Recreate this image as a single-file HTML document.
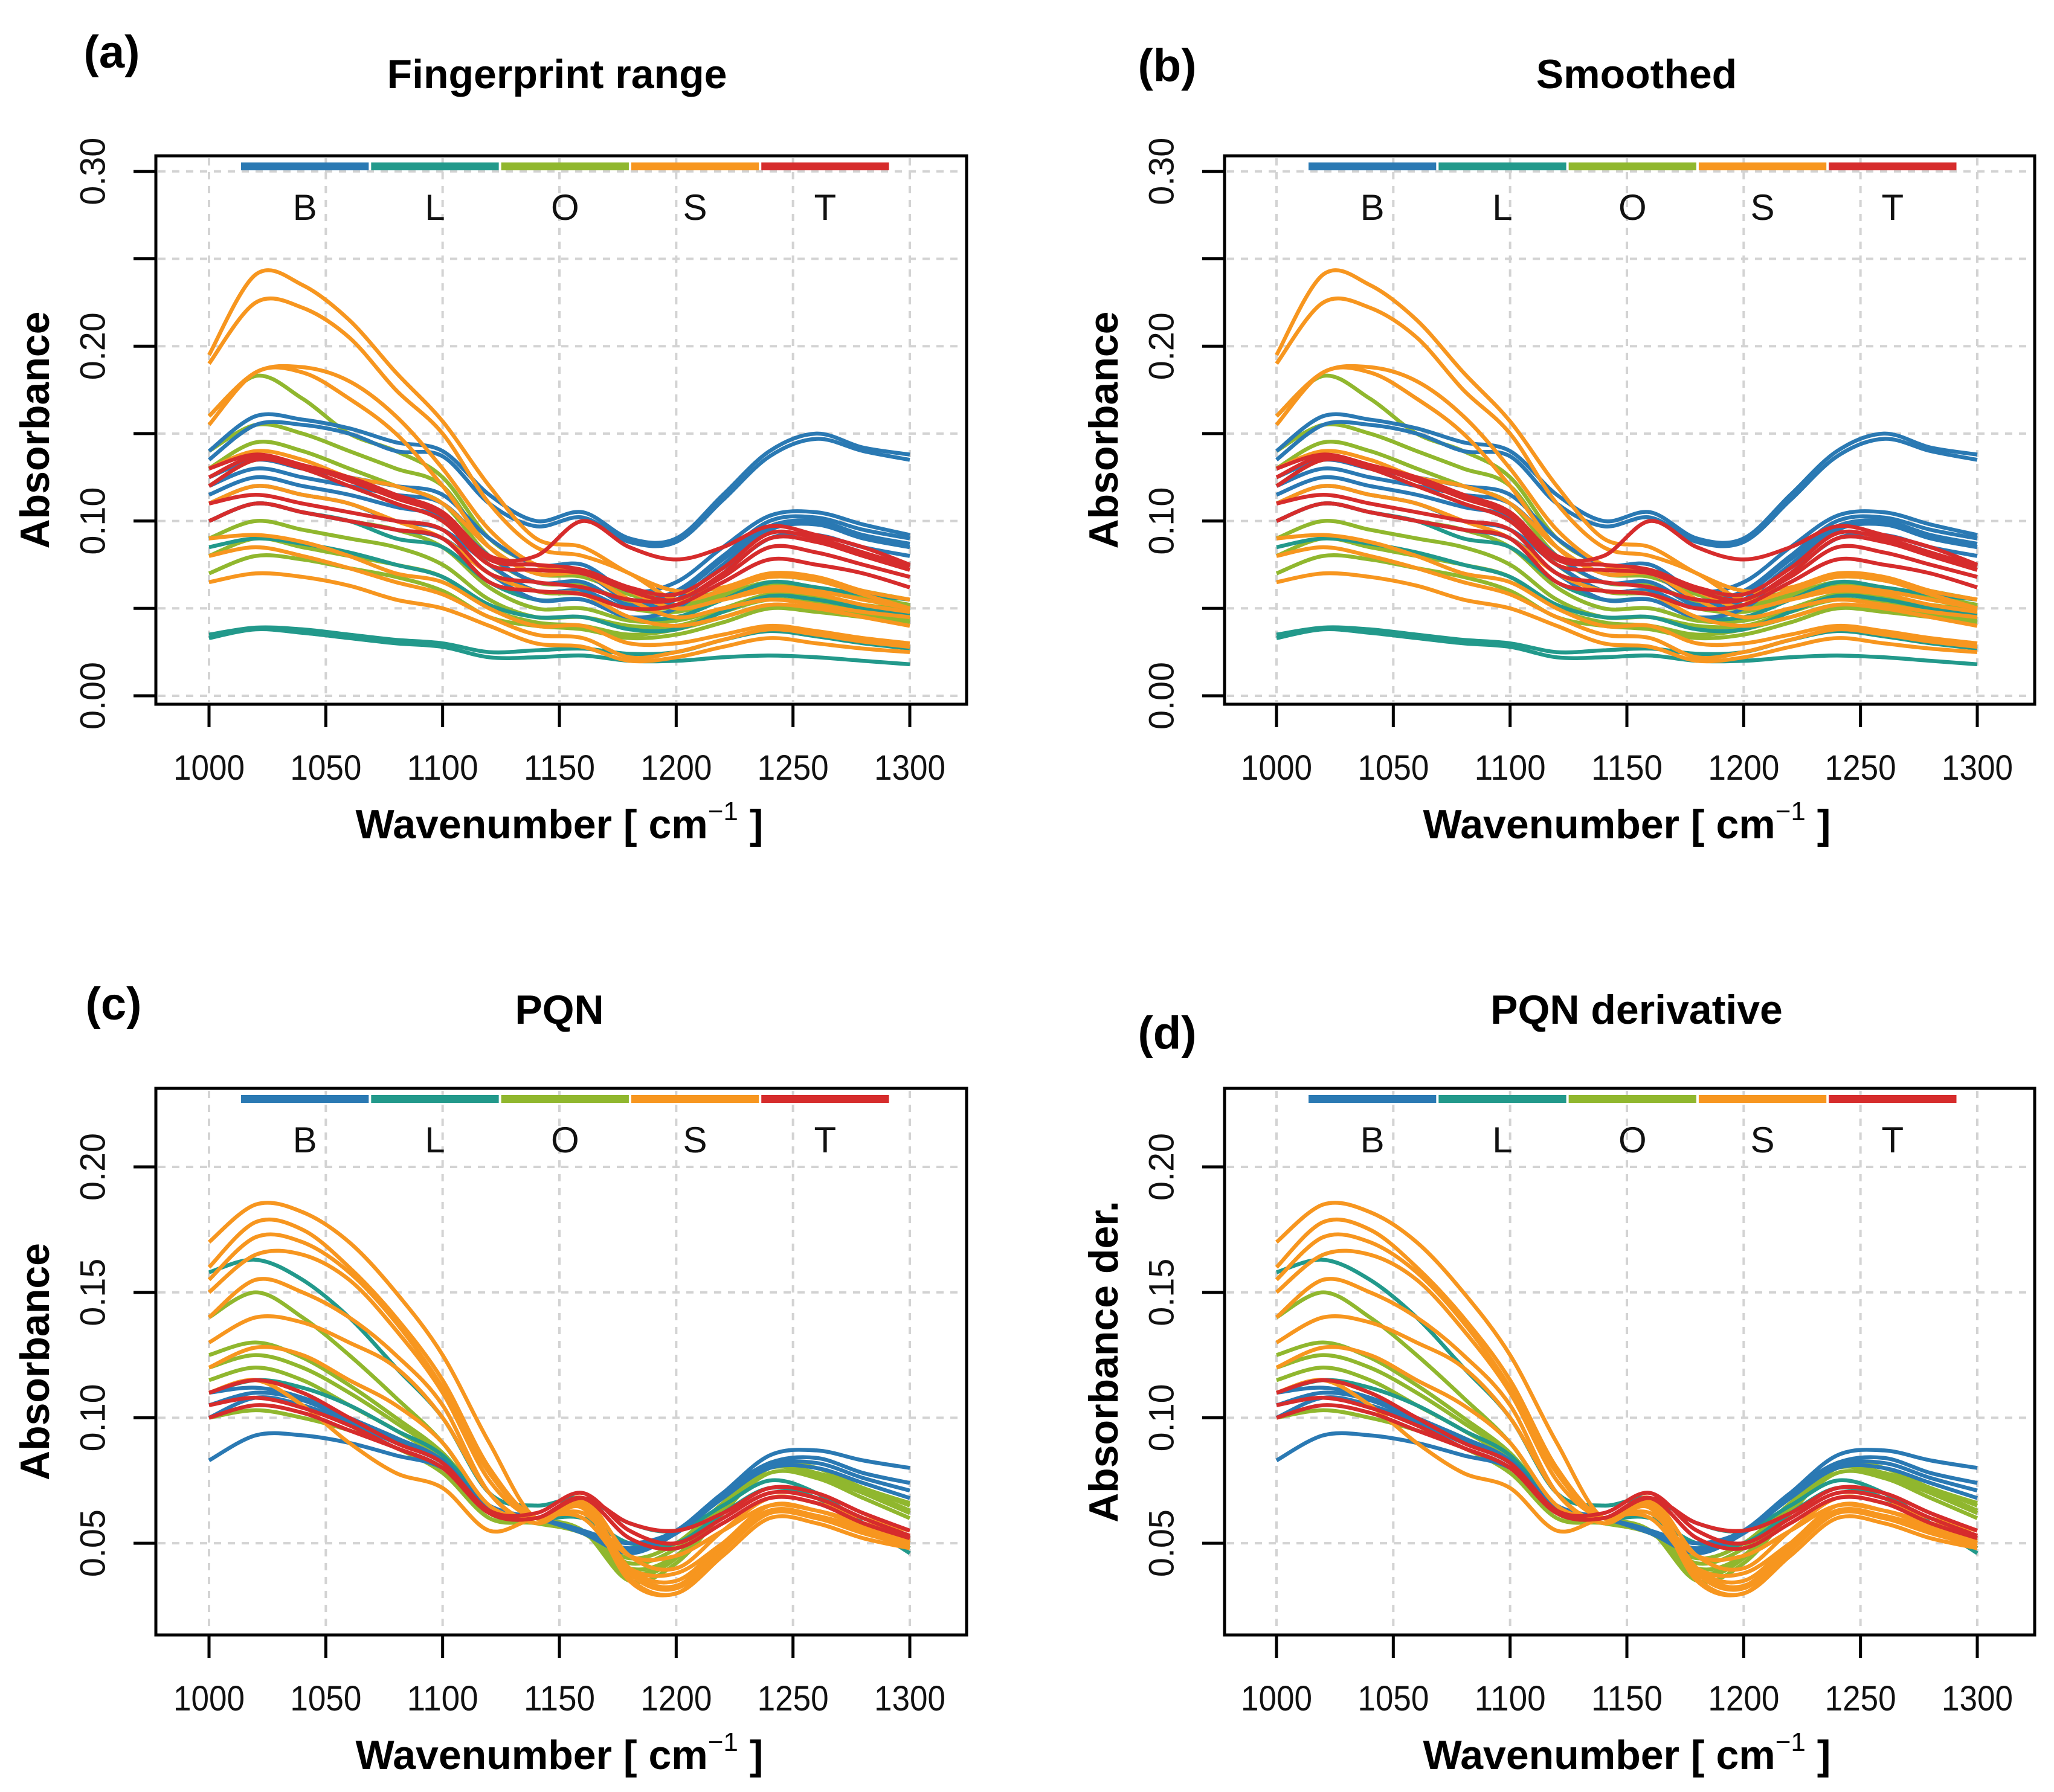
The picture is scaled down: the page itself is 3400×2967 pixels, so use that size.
<!DOCTYPE html>
<html><head><meta charset="utf-8"><style>
html,body{margin:0;padding:0;background:#fff;}
svg{display:block;}
text{font-family:"Liberation Sans",Arial,sans-serif;}
</style></head>
<body>
<svg id="fig" width="3400" height="2967" viewBox="0 0 3400 2967" xmlns="http://www.w3.org/2000/svg">
<rect width="3400" height="2967" fill="#fff"/>
</svg>
<script>
const xs = [1000,1020,1040,1060,1080,1100,1120,1140,1160,1180,1200,1220,1240,1260,1280,1300];
const classNames = ['B','L','O','S','T'];
const classColors = {B:'#2a79b3',L:'#22998b',O:'#90b72e',S:'#f7961f',T:'#d62c2c'};

// Panel (a)/(b) raw spectra per class
const rawB = [
 [.14,.16,.158,.153,.145,.14,.115,.1,.105,.09,.09,.115,.14,.15,.142,.138],
 [.135,.155,.155,.15,.14,.137,.11,.097,.102,.088,.088,.112,.137,.147,.14,.135],
 [.125,.135,.13,.125,.12,.115,.09,.075,.075,.06,.065,.085,.103,.105,.098,.092],
 [.12,.13,.125,.12,.115,.11,.085,.07,.07,.055,.06,.08,.1,.102,.095,.09],
 [.115,.125,.12,.115,.108,.102,.08,.065,.065,.052,.058,.078,.097,.1,.092,.087],
 [.11,.12,.115,.11,.1,.095,.075,.06,.06,.05,.055,.075,.095,.098,.09,.085],
 [.1,.11,.105,.1,.095,.09,.07,.055,.055,.045,.05,.07,.09,.092,.085,.08]
];
const rawL = [
 [.033,.038,.036,.033,.03,.028,.022,.022,.023,.02,.02,.022,.023,.022,.02,.018],
 [.035,.039,.038,.035,.032,.03,.025,.026,.027,.024,.025,.032,.037,.034,.03,.027],
 [.1,.11,.105,.1,.09,.085,.065,.055,.055,.045,.045,.055,.065,.062,.058,.055],
 [.085,.09,.087,.082,.075,.068,.052,.045,.045,.038,.038,.048,.057,.055,.05,.046]
];
const rawO = [
 [.16,.183,.17,.15,.14,.125,.09,.075,.07,.06,.055,.06,.068,.066,.06,.055],
 [.14,.155,.15,.14,.13,.12,.085,.07,.068,.058,.052,.058,.065,.062,.057,.052],
 [.13,.145,.14,.13,.12,.11,.08,.065,.063,.054,.05,.057,.064,.061,.056,.051],
 [.12,.135,.13,.12,.11,.1,.075,.06,.058,.05,.048,.055,.062,.06,.055,.05],
 [.1,.11,.105,.1,.095,.085,.062,.05,.05,.043,.043,.05,.058,.056,.052,.049],
 [.09,.1,.095,.09,.085,.075,.055,.045,.045,.04,.04,.048,.055,.053,.05,.047],
 [.08,.09,.085,.08,.075,.068,.05,.042,.04,.035,.038,.045,.052,.05,.047,.044],
 [.07,.08,.078,.073,.068,.06,.045,.04,.038,.033,.035,.042,.05,.048,.045,.042]
];
const rawS = [
 [.195,.241,.235,.215,.185,.157,.12,.09,.085,.07,.06,.062,.07,.068,.06,.055],
 [.19,.225,.222,.205,.175,.15,.11,.085,.08,.07,.055,.06,.068,.066,.058,.05],
 [.16,.185,.188,.18,.16,.13,.095,.075,.072,.06,.05,.055,.062,.06,.055,.05],
 [.155,.185,.185,.17,.15,.12,.085,.07,.07,.055,.045,.05,.055,.052,.048,.045],
 [.13,.14,.135,.125,.12,.11,.085,.07,.07,.06,.05,.055,.06,.058,.052,.048],
 [.11,.12,.115,.11,.1,.09,.07,.06,.058,.045,.04,.045,.052,.05,.045,.04],
 [.09,.092,.088,.08,.07,.065,.05,.04,.04,.03,.03,.035,.04,.037,.033,.03],
 [.08,.085,.08,.073,.065,.058,.045,.035,.033,.022,.025,.032,.038,.035,.031,.028],
 [.065,.07,.068,.063,.055,.05,.04,.03,.028,.02,.022,.028,.033,.03,.027,.025]
];
const rawT = [
 [.13,.138,.132,.125,.115,.105,.08,.08,.1,.085,.078,.085,.097,.092,.085,.075],
 [.125,.137,.132,.123,.113,.103,.078,.075,.072,.062,.058,.073,.093,.09,.082,.074],
 [.12,.135,.13,.12,.11,.1,.075,.072,.07,.06,.055,.07,.09,.088,.08,.072],
 [.11,.115,.11,.105,.1,.095,.07,.065,.062,.055,.055,.068,.085,.082,.075,.068],
 [.1,.11,.105,.1,.095,.09,.065,.06,.058,.05,.052,.065,.078,.075,.07,.062]
];

// Panel (c)/(d) PQN spectra per class
const pqnB = [
 [.083,.093,.093,.09,.085,.08,.065,.06,.055,.05,.055,.07,.085,.087,.083,.08],
 [.1,.108,.105,.098,.09,.082,.065,.06,.055,.048,.055,.07,.082,.084,.078,.074],
 [.105,.11,.107,.099,.091,.082,.064,.06,.055,.047,.054,.069,.081,.082,.076,.071],
 [.11,.112,.108,.1,.092,.083,.064,.06,.054,.046,.054,.068,.08,.08,.074,.068]
];
const pqnL = [
 [.158,.163,.155,.14,.12,.1,.07,.065,.068,.058,.055,.065,.075,.07,.058,.046],
 [.11,.115,.112,.105,.095,.085,.065,.06,.06,.05,.05,.062,.072,.068,.058,.048]
];
const pqnO = [
 [.14,.15,.14,.125,.108,.09,.065,.06,.055,.035,.042,.062,.08,.078,.072,.065],
 [.125,.13,.124,.113,.1,.086,.065,.06,.055,.037,.044,.064,.08,.078,.071,.063],
 [.12,.125,.12,.11,.098,.085,.065,.06,.055,.038,.045,.065,.08,.078,.07,.062],
 [.115,.12,.115,.105,.095,.083,.063,.06,.055,.04,.045,.063,.078,.076,.068,.06],
 [.11,.115,.11,.1,.092,.082,.062,.058,.054,.042,.048,.065,.082,.08,.072,.066],
 [.1,.103,.1,.095,.088,.078,.06,.058,.054,.044,.05,.066,.08,.077,.07,.063]
];
const pqnS = [
 [.17,.185,.182,.17,.15,.125,.09,.06,.068,.045,.04,.055,.068,.066,.06,.055],
 [.16,.178,.175,.16,.14,.115,.08,.06,.067,.04,.035,.05,.065,.063,.057,.052],
 [.155,.172,.17,.158,.138,.112,.078,.06,.066,.039,.033,.049,.063,.061,.056,.051],
 [.15,.165,.165,.155,.135,.11,.075,.06,.066,.038,.032,.048,.062,.06,.055,.05],
 [.14,.155,.15,.14,.125,.105,.07,.058,.064,.036,.03,.047,.062,.06,.054,.049],
 [.13,.14,.138,.13,.12,.1,.07,.058,.065,.035,.03,.045,.06,.058,.052,.048],
 [.12,.128,.125,.115,.105,.09,.065,.06,.062,.045,.045,.055,.065,.063,.058,.053],
 [.11,.115,.105,.09,.078,.072,.055,.06,.06,.04,.038,.05,.063,.06,.055,.05]
];
const pqnT = [
 [.1,.105,.102,.095,.088,.08,.062,.06,.068,.058,.055,.062,.072,.07,.062,.055],
 [.11,.115,.11,.1,.09,.082,.063,.062,.07,.055,.05,.06,.07,.068,.06,.053],
 [.105,.108,.104,.097,.088,.08,.062,.06,.068,.052,.048,.058,.068,.066,.058,.052]
];

const xTicks = [1000,1050,1100,1150,1200,1250,1300];
const yTicksTop = [0,0.05,0.10,0.15,0.20,0.25,0.30];
const yLabelsTop = ['0.00','0.10','0.20','0.30'];
const yTicksBot = [0.05,0.10,0.15,0.20];
const yLabelsBot = ['0.05','0.10','0.15','0.20'];

const NS='http://www.w3.org/2000/svg';
const svg=document.getElementById('fig');
function mk(tag,attrs,parent){const e=document.createElementNS(NS,tag);for(const k in attrs)e.setAttribute(k,attrs[k]);(parent||svg).appendChild(e);return e;}
function smoothPath(pts){
  let d='M'+pts[0][0].toFixed(1)+','+pts[0][1].toFixed(1);
  for(let i=0;i<pts.length-1;i++){
    const p0=pts[Math.max(0,i-1)],p1=pts[i],p2=pts[i+1],p3=pts[Math.min(pts.length-1,i+2)];
    const c1=[p1[0]+(p2[0]-p0[0])/6,p1[1]+(p2[1]-p0[1])/6];
    const c2=[p2[0]-(p3[0]-p1[0])/6,p2[1]-(p3[1]-p1[1])/6];
    d+='C'+c1[0].toFixed(1)+','+c1[1].toFixed(1)+' '+c2[0].toFixed(1)+','+c2[1].toFixed(1)+' '+p2[0].toFixed(1)+','+p2[1].toFixed(1);
  }
  return d;
}

function panel(cfg){
  const g=mk('g',{});
  
  
  const X=v=>cfg.x0+(v-1000)/300*(cfg.x1-cfg.x0);
  const Y=v=>cfg.yRefPx+(cfg.yRefVal-v)/0.05*cfg.yPer05;
  xTicks.forEach(t=>{const l=mk('line',{x1:X(t),x2:X(t),y1:cfg.top+4,y2:cfg.bottom-4,stroke:'#d3d3d3','stroke-width':4,'stroke-dasharray':'12 11'},g);
    });
  cfg.yTicks.forEach(t=>{const l=mk('line',{x1:cfg.left+4,x2:cfg.right-4,y1:Y(t),y2:Y(t),stroke:'#d3d3d3','stroke-width':4,'stroke-dasharray':'12 11'},g);
    });
  const clip=mk('clipPath',{id:'clip-'+cfg.name},g);
  mk('rect',{x:cfg.left,y:cfg.top,width:cfg.right-cfg.left,height:cfg.bottom-cfg.top},clip);
  const cg=mk('g',{'clip-path':'url(#clip-'+cfg.name+')'},g);
  ['O','L','B','S','T'].forEach(c=>{
    cfg.data[c].forEach(series=>{
      const pts=series.map((v,i)=>[X(xs[i]),Y(v)]);
      const p=mk('path',{d:smoothPath(pts),fill:'none',stroke:classColors[c],'stroke-width':6.5,'stroke-linejoin':'round'},cg);
      
      
    });
  });
  const box=mk('rect',{x:cfg.left,y:cfg.top,width:cfg.right-cfg.left,height:cfg.bottom-cfg.top,fill:'none',stroke:'#000','stroke-width':5},g);
  
  xTicks.forEach(t=>{
    const l=mk('line',{x1:X(t),x2:X(t),y1:cfg.bottom,y2:cfg.bottom+38,stroke:'#000','stroke-width':5},g);
    
    const tx=mk('text',{x:X(t),y:cfg.bottom+125,'font-size':58,'text-anchor':'middle',fill:'#111',textLength:118,lengthAdjust:'spacingAndGlyphs'},g);
    tx.textContent=String(t);
    
  });
  cfg.yTicks.forEach(t=>{
    const l=mk('line',{x1:cfg.left-37,x2:cfg.left,y1:Y(t),y2:Y(t),stroke:'#000','stroke-width':5},g);
    
  });
  cfg.yLabels.forEach(s=>{
    const v=parseFloat(s);const cx=cfg.left-104, cy=Y(v);
    const tx=mk('text',{x:cx,y:cy,'font-size':58,'text-anchor':'middle','dominant-baseline':'central',fill:'#111',transform:'rotate(-90 '+cx+' '+cy+')',textLength:112,lengthAdjust:'spacingAndGlyphs'},g);
    tx.textContent=s;
    
  });
  const lx0=X(1013.2), lx1=X(1291.6), seg=(lx1-lx0)/5;
  classNames.forEach((c,i)=>{
    const r=mk('rect',{x:lx0+i*seg+2,y:cfg.top+11,width:seg-4,height:13,fill:classColors[c]},g);
    
    const t=mk('text',{x:lx0+i*seg+seg/2,y:cfg.top+106,'font-size':60,'text-anchor':'middle',fill:'#111'},g);
    t.textContent=c;
    
  });
  const tt=mk('text',{x:cfg.titleX,y:cfg.titleY,'font-size':68,'font-weight':'bold','text-anchor':'middle',fill:'#000'},g);
  tt.textContent=cfg.title;
  
  const pl=mk('text',{x:cfg.tagX,y:cfg.tagY,'font-size':76,'font-weight':'bold','text-anchor':'middle',fill:'#000'},g);
  pl.textContent=cfg.tag;
  
  const yx=cfg.left-200, yc=(cfg.top+cfg.bottom)/2;
  const yt=mk('text',{x:yx,y:yc,'font-size':68,'font-weight':'bold','text-anchor':'middle','dominant-baseline':'central',fill:'#000',transform:'rotate(-90 '+yx+' '+yc+')'},g);
  yt.textContent=cfg.ylab;
  
  const xt=mk('text',{x:(cfg.x0+cfg.x1)/2,y:cfg.bottom+222,'font-size':68,'font-weight':'bold','text-anchor':'middle',fill:'#000'},g);
  xt.textContent='Wavenumber [ cm';
  const sup=mk('tspan',{'font-size':44,dy:-30,'font-weight':'normal'},xt);sup.textContent='\u22121';
  const rest=mk('tspan',{dy:30},xt);rest.textContent=' ]';
  
}

const dataRaw={B:rawB,L:rawL,O:rawO,S:rawS,T:rawT};
const dataPqn={B:pqnB,L:pqnL,O:pqnO,S:pqnS,T:pqnT};
const topCommon={top:258,bottom:1166,yRefPx:1152,yRefVal:0,yPer05:144.7,yTicks:yTicksTop,yLabels:yLabelsTop,titleY:146,ylab:'Absorbance'};
const botCommon={top:1802,bottom:2707,yRefPx:1932,yRefVal:0.20,yPer05:207.7,yTicks:yTicksBot,yLabels:yLabelsBot,titleY:1695};
panel(Object.assign({},topCommon,{name:'panel-a',left:258,right:1600,x0:346,x1:1506,data:dataRaw,title:'Fingerprint range',titleX:922,tag:'(a)',tagX:185,tagY:112}));
panel(Object.assign({},topCommon,{name:'panel-b',left:2027,right:3368,x0:2113,x1:3273,data:dataRaw,title:'Smoothed',titleX:2709,tag:'(b)',tagX:1932,tagY:134}));
panel(Object.assign({},botCommon,{name:'panel-c',left:258,right:1600,x0:346,x1:1506,data:dataPqn,title:'PQN',titleX:926,tag:'(c)',tagX:188,tagY:1688,ylab:'Absorbance'}));
panel(Object.assign({},botCommon,{name:'panel-d',left:2027,right:3368,x0:2113,x1:3273,data:dataPqn,title:'PQN derivative',titleX:2709,tag:'(d)',tagX:1932,tagY:1736,ylab:'Absorbance der.'}));
</script>
</body></html>
